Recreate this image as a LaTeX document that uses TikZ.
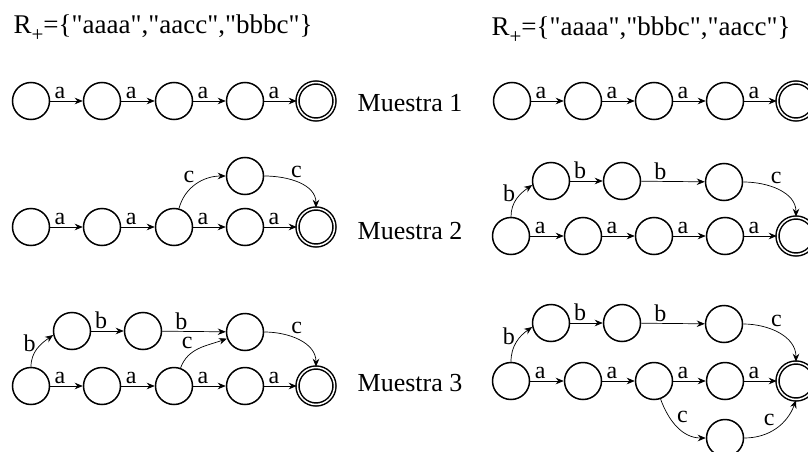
\documentclass[tikz,border=0pt]{standalone}
\usepackage{fontspec}
% keep " as a straight quote
\setmainfont{Liberation Serif}[Ligatures=TeXOff]
\usetikzlibrary{arrows.meta}
% the lowered plus of R_+
\newcommand{\Rplus}{R\raisebox{-0.32em}{\fontsize{21}{21}\selectfont+}}
\begin{document}
\begin{tikzpicture}[x=1pt,y=-1pt,
  state/.style={circle,draw,line width=1.5pt,minimum size=37pt,inner sep=0pt},
  accept/.style={state,double,double distance=1.5pt},
  tr/.style={-{Stealth[length=8pt,width=6.5pt]},line width=0.7pt},
  lbl/.style={font=\fontsize{24}{24}\selectfont,inner sep=1.5pt},
  blbl/.style={lbl,pos=0.62,left,xshift=-3pt,yshift=2pt},
  title/.style={font=\fontsize{27}{29}\selectfont,anchor=west},
  sample/.style={font=\fontsize{26}{28}\selectfont}]
\useasboundingbox (0,0) rectangle (808,452);

% titles
\node[title] (tl) at (10,28) {\Rplus=\{"aaaa","aacc","bbbc"\}};
\node[title] (tr) at (488,30) {\Rplus=\{"aaaa","bbbc","aacc"\}};

% sample names
\node[sample] (m1) at (410,103) {Muestra 1};
\node[sample] (m2) at (410,231) {Muestra 2};
\node[sample] (m3) at (410,383) {Muestra 3};

% ---------- left column ----------
% sample 1
\foreach \i/\x in {1/31,2/102,3/174,4/245} \node[state] (La\i) at (\x,101) {};
\node[accept] (La5) at (316,101) {};
\foreach \i/\j in {1/2,2/3,3/4,4/5}
  \draw[tr] (La\i) -- node[lbl,pos=0.3,above]{a} (La\j);

% sample 2
\foreach \i/\x in {1/31,2/102,3/174,4/245} \node[state] (Lb\i) at (\x,227) {};
\node[accept] (Lb5) at (316,227) {};
\node[state] (Lbu) at (245,176) {};
\foreach \i/\j in {1/2,2/3,3/4,4/5}
  \draw[tr] (Lb\i) -- node[lbl,pos=0.3,above]{a} (Lb\j);
\draw[tr] (Lb3.75) to[out=75,in=180] node[lbl,pos=0.5,above left]{c} (Lbu.west);
\draw[tr] (Lbu.east) to[out=0,in=90] node[lbl,pos=0.35,above right]{c} (Lb5.north);

% sample 3
\foreach \i/\x in {1/31,2/102,3/174,4/245} \node[state] (Lc\i) at (\x,386) {};
\node[accept] (Lc5) at (316,386) {};
\node[state] (Lcu1) at (72,331) {};
\node[state] (Lcu2) at (143,331) {};
\node[state] (Lcu3) at (245,332) {};
\foreach \i/\j in {1/2,2/3,3/4,4/5}
  \draw[tr] (Lc\i) -- node[lbl,pos=0.3,above]{a} (Lc\j);
\draw[tr] (Lc1.north) to[out=90,in=215] node[blbl]{b} (Lcu1.192);
\draw[tr] (Lcu1) -- node[lbl,pos=0.3,above]{b} (Lcu2);
\draw[tr] (Lcu2) -- node[lbl,pos=0.3,above]{b} (Lcu3);
\draw[tr] (Lc3.70) to[out=70,in=200] node[lbl,pos=0.4,above left]{c} (Lcu3.200);
\draw[tr] (Lcu3.east) to[out=0,in=90] node[lbl,pos=0.35,above right]{c} (Lc5.north);

% ---------- right column ----------
% sample 1
\foreach \i/\x in {1/512,2/583,3/654,4/725} \node[state] (Ra\i) at (\x,101) {};
\node[accept] (Ra5) at (796,101) {};
\foreach \i/\j in {1/2,2/3,3/4,4/5}
  \draw[tr] (Ra\i) -- node[lbl,pos=0.3,above]{a} (Ra\j);

% sample 2
\foreach \i/\x in {1/511,2/583,3/654,4/725} \node[state] (Rb\i) at (\x,236) {};
\node[accept] (Rb5) at (796,236) {};
\node[state] (Rbu1) at (551,181) {};
\node[state] (Rbu2) at (622,181) {};
\node[state] (Rbu3) at (724,182) {};
\foreach \i/\j in {1/2,2/3,3/4,4/5}
  \draw[tr] (Rb\i) -- node[lbl,pos=0.3,above]{a} (Rb\j);
\draw[tr] (Rb1.north) to[out=90,in=215] node[blbl]{b} (Rbu1.192);
\draw[tr] (Rbu1) -- node[lbl,pos=0.3,above]{b} (Rbu2);
\draw[tr] (Rbu2) -- node[lbl,pos=0.3,above]{b} (Rbu3);
\draw[tr] (Rbu3.east) to[out=0,in=90] node[lbl,pos=0.35,above right]{c} (Rb5.north);

% sample 3
\foreach \i/\x in {1/511,2/583,3/654,4/725} \node[state] (Rc\i) at (\x,381) {};
\node[accept] (Rc5) at (796,381) {};
\node[state] (Rcu1) at (551,323) {};
\node[state] (Rcu2) at (622,323) {};
\node[state] (Rcu3) at (724,324) {};
\node[state] (Rcd) at (725,438) {};
\foreach \i/\j in {1/2,2/3,3/4,4/5}
  \draw[tr] (Rc\i) -- node[lbl,pos=0.3,above]{a} (Rc\j);
\draw[tr] (Rc1.north) to[out=90,in=215] node[blbl]{b} (Rcu1.192);
\draw[tr] (Rcu1) -- node[lbl,pos=0.3,above]{b} (Rcu2);
\draw[tr] (Rcu2) -- node[lbl,pos=0.3,above]{b} (Rcu3);
\draw[tr] (Rcu3.east) to[out=0,in=90] node[lbl,pos=0.35,above right]{c} (Rc5.north);
\draw[tr] (Rc3.290) to[out=-70,in=180] node[lbl,pos=0.45,above right]{c} (Rcd.west);
\draw[tr] (Rcd.east) to[out=0,in=-110] node[lbl,pos=0.5,above left]{c} (Rc5.south);
\end{tikzpicture}
\end{document}
